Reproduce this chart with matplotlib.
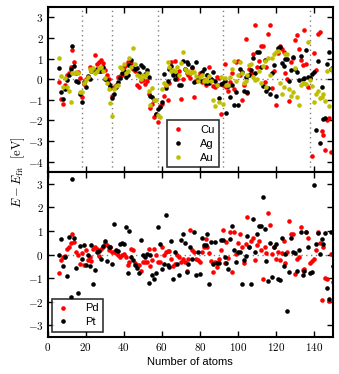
import numpy as np
import matplotlib
matplotlib.use('Agg')
import matplotlib.pyplot as plt
from matplotlib.ticker import FuncFormatter, MultipleLocator

plt.rcParams['mathtext.fontset'] = 'cm'
plt.rcParams['font.family'] = ['Liberation Sans', 'DejaVu Sans']

# 원자 수
n_atoms = np.arange(6, 151)

# 상단 패널: Cu, Ag, Au
cu = [-0.15, -0.95, -1.2, -0.3, 0.2, 0.3, 0.6, 1.4, 0.85, 0.3,
      0.35, 0.05, -0.85, -0.25, 0.0, 0.1, 0.6, 0.45, 0.5, 1.15,
      0.75, 0.85, 0.95, 0.8, 0.45, 0.2, 0.0, -0.45, -0.8, -0.4,
      -0.3, 0.1, 0.15, 0.2, 0.6, 0.7, 0.85, 0.7, 0.8, 0.5,
      0.4, -0.3, -0.4, -0.1, -0.05, -0.25, -0.1, -0.7, -1.4, -1.2,
      -1.85, -1.7, -2.1, -1.3, -1.2, -0.8, -0.3, -1.0, -0.2, 0.85,
      0.3, 0.87, 0.0, 0.4, -0.95, 0.0, 0.5, 0.3, 0.2, 0.05,
      0.55, -0.85, -0.1, 0.05, 0.3, -0.15, -0.05, -0.3, 0.2, 0.58,
      0.0, -0.35, -0.4, 0.1, 0.05, -1.7, -0.3, 0.75, -0.4, -0.55,
      -0.15, 0.3, -0.47, 0.85, 0.87, 0.2, -1.0, -0.3, 1.94, -0.65,
      0.5, 0.3, 1.2, 2.65, 0.6, 0.9, 1.6, 1.6, -0.15, 0.6,
      2.2, 2.65, -0.45, 0.4, -1.25, 1.25, 1.6, 1.45, 1.3, 0.3,
      0.0, -1.05, 0.85, 1.05, 1.9, 2.15, 1.45, 0.95, 0.7, 2.4,
      0.75, -0.4, 0.05, -3.7, 1.25, 0.45, 2.2, 2.3, -2.5, -2.7,
      -3.45, -2.0, -1.9, -3.55, 1.95]
ag = [0.55, -0.63, -0.97, -0.5, -0.05, 0.18, 0.5, 1.6, 0.65, -0.1,
      -0.15, -0.7, -1.1, -0.15, -0.4, 0.15, 0.0, 0.4, 0.45, 0.45,
      0.5, 0.4, 0.4, 0.6, 0.0, -0.05, -0.25, -0.35, -0.9, -0.7,
      -0.4, -0.15, 0.05, 0.3, 0.4, 0.1, 0.2, 0.7, 0.95, 0.55,
      0.5, 0.55, 0.3, 0.7, 0.6, 0.25, 0.45, 0.1, -0.8, -0.85,
      -1.0, -1.7, -1.45, -1.35, -1.1, 0.25, -0.45, -0.1, 0.5, 0.65,
      0.2, 0.0, 0.2, -0.3, -0.3, 0.9, 0.5, 0.85, 0.75, 0.3,
      0.6, -0.15, 0.85, 0.1, -0.05, 0.35, 0.5, -0.2, 0.2, -0.2,
      0.0, 0.35, -0.1, -0.3, -0.9, -0.25, -0.2, -0.1, -1.65, -0.35,
      -0.85, -0.3, -1.25, -0.6, -1.25, 0.5, 0.35, -0.58, 0.1, -0.6,
      0.2, 0.45, 1.05, 0.3, 1.3, 1.3, 0.58, -0.35, 0.95, -0.55,
      -0.45, -0.7, 0.3, 0.7, -0.8, 1.5, 1.55, 0.8, 0.66, 1.0,
      1.0, -0.1, 0.45, 1.07, 0.5, 0.35, -0.05, 1.1, 0.0, 0.05,
      1.4, 0.13, 0.05, 0.26, 0.35, -2.46, 0.87, -3.1, -0.4, -1.95,
      -1.9, 0.75, 1.34, 0.5, 0.6]
au = [1.05, 0.16, -0.4, 0.06, -0.4, -0.55, -1.13, 0.3, 0.3, 0.35,
      0.3, -0.6, -0.6, -0.2, -0.05, 0.1, 0.5, 0.4, 0.55, 0.3,
      0.4, 0.55, 0.6, 0.4, 0.05, -0.2, -0.5, -1.15, -1.8, -0.5,
      -0.35, -0.3, 0.6, 0.5, 0.75, 0.3, 0.4, 1.05, 0.6, 1.5,
      0.75, 0.2, 0.15, 0.0, 0.2, 0.15, 0.3, -0.55, -1.25, -0.45,
      -1.0, -1.0, -1.75, -1.85, -0.5, -0.2, -0.3, 0.85, 0.6, 0.4,
      0.45, 0.4, 0.6, 0.2, 0.8, 1.3, 0.5, 0.35, 0.4, 0.3,
      0.35, 0.35, 0.15, -0.1, 0.1, 0.2, -0.1, 0.0, -0.1, 0.15,
      -0.1, -1.0, -1.3, -0.3, -1.1, 0.1, -1.2, 0.05, -0.3, -0.3,
      0.1, 0.5, 0.87, -0.1, 0.2, 0.85, 0.3, -0.2, -0.1, 0.2,
      0.7, 0.75, 0.1, -0.05, 0.0, 0.42, -0.2, 0.65, 0.9, -0.4,
      1.05, 0.2, 1.05, 1.2, 1.3, 1.35, -0.2, -0.7, -0.4, 1.23,
      1.2, -0.5, -0.8, -0.6, 0.53, -0.85, -1.23, -0.3, -0.2, -0.2,
      -0.25, 1.8, -0.06, -0.35, -1.1, -0.7, -0.55, -0.9, -0.88, -0.7,
      -1.05, 0.42, -1.28, 0.47, 0.35]

# 하단 패널: Pd, Pt
pd_ = [-0.8, -0.25, -0.1, -0.05, 0.25, 0.32, 0.5, 0.86, 0.53, 0.1,
       -0.03, -0.41, 0.05, -0.46, 0.18, -0.25, -0.11, -0.27, 0.23, 0.32,
       0.23, -0.05, 0.25, 0.3, 0.47, 0.4, 0.2, 0.3, 0.1, 0.1,
       0.05, 0.0, -0.1, -0.04, 0.02, -0.1, -0.46, -0.32, 0.25, 0.2,
       -0.35, -0.46, -0.45, -0.68, -0.3, -0.31, -0.3, 0.23, -0.48, -0.25,
       0.25, -0.04, -0.32, -0.3, 0.3, -0.03, 0.1, 0.13, 0.16, -0.2,
       -0.5, -0.4, 0.0, -0.1, -0.3, -0.2, -0.31, -0.7, -0.2, 1.05,
       0.2, 0.09, -0.17, -0.23, -0.3, 0.09, 0.3, 0.65, 0.3, 0.06,
       -0.27, -0.74, -0.3, -0.51, -0.2, 0.2, 1.05, -0.34, 0.51, -0.13,
       0.94, -0.74, 0.97, 0.02, 0.5, 0.87, 0.3, -0.34, 0.44, 1.58,
       0.3, 0.58, 0.7, -0.23, 0.4, 0.58, 0.2, -1.02, 0.3, 0.06,
       1.75, 1.25, 0.02, 0.3, -0.17, 0.1, -0.23, 0.05, 0.58, -0.34,
       0.1, 1.43, 0.87, 0.87, -0.84, -0.17, -0.1, 1.15, -0.67, -0.6,
       0.97, 0.72, -0.35, -0.27, -0.2, 0.2, 0.97, 0.5, -1.93, 0.3,
       -0.98, -1.05, -1.97, 0.01, -1.16]
pt = [0.0, 0.67, -0.49, -0.1, -0.92, 0.76, -1.81, 3.2, 0.7, -0.58,
      -1.64, 0.36, -0.2, 0.39, -0.43, -0.04, -0.49, 0.39, -1.24, -0.65,
      0.1, 0.15, -0.21, 0.36, 0.56, -0.29, 0.3, 0.3, -0.42, 1.28,
      0.2, 0.15, 0.46, 0.5, 0.45, 1.17, -0.79, 1.0, -0.11, -0.23,
      -0.46, -0.58, -0.79, 0.6, -0.04, -0.1, 0.01, -1.19, -0.04, -0.89,
      -1.02, -0.78, 1.17, 0.44, -0.62, -0.4, 1.69, -0.46, -0.55, 0.58,
      -1.05, 0.1, -0.41, -0.88, 0.61, 0.87, 0.5, -0.74, -0.41, 0.3,
      -0.2, 0.94, -0.88, 0.1, -0.84, 0.72, 0.4, 0.4, 0.87, -1.26,
      0.51, -0.41, 0.54, -0.34, -0.34, 0.6, 0.6, -0.1, -0.34, -0.62,
      0.65, 1.19, 0.2, -0.3, 0.09, 0.1, -1.26, -0.23, -0.06, 0.8,
      0.3, -1.26, 1.5, 0.1, 0.87, 1.22, 1.19, 2.43, 1.1, -0.27,
      -1.12, 0.5, -0.94, 0.3, 0.44, -1.02, -1.08, 0.68, -0.48, 0.01,
      -2.4, -0.74, 0.68, 0.11, 0.06, -0.7, 0.2, 0.94, -0.88, -0.7,
      0.94, 0.3, -0.77, -0.74, 2.95, 0.44, 0.9, 0.04, 0.65, 0.44,
      0.9, -1.4, -1.87, 0.94, -0.5]

# 매직 넘버 (점선)
magic = [18, 34, 58, 92, 138]


def math_fmt(x, pos):
    return '$%g$' % x


fig = plt.figure(figsize=(3.39, 3.74), dpi=100)
ax1 = fig.add_axes([0.1407, 0.5401, 0.8416, 0.4412])
ax2 = fig.add_axes([0.1407, 0.0989, 0.8416, 0.4412], sharex=ax1)

ms = 3.3
ax1.plot(n_atoms, cu, 'o', color='#ff0000', ms=ms, mew=0, label='Cu')
ax1.plot(n_atoms, ag, 'o', color='black', ms=ms, mew=0, label='Ag')
ax1.plot(n_atoms, au, 'o', color='#bfbf00', ms=ms, mew=0, label='Au')
for m in magic:
    ax1.axvline(m, color='0.5', ls=(0, (1, 2.5)), lw=1, zorder=0)
ax1.axhline(0, color='0.5', ls=(0, (1, 2.5)), lw=1, zorder=0)

ax2.plot(n_atoms, pd_, 'o', color='#ff0000', ms=ms, mew=0, label='Pd')
ax2.plot(n_atoms, pt, 'o', color='black', ms=ms, mew=0, label='Pt')
ax2.axhline(0, color='0.5', ls=(0, (1, 2.5)), lw=1, zorder=0)

ax1.set_ylim(-4.5, 3.5)
ax2.set_ylim(-3.5, 3.5)
ax2.set_xlim(0, 150)

for ax in (ax1, ax2):
    ax.xaxis.set_major_locator(MultipleLocator(20))
    ax.yaxis.set_major_locator(MultipleLocator(1))
    ax.xaxis.set_major_formatter(FuncFormatter(math_fmt))
    ax.yaxis.set_major_formatter(FuncFormatter(math_fmt))
    ax.tick_params(direction='in', top=True, right=True, length=4, width=1,
                   labelsize=8, pad=3)
    for s in ax.spines.values():
        s.set_linewidth(1.5)
ax1.tick_params(labelbottom=False)

leg1 = ax1.legend(loc='lower left', bbox_to_anchor=(0.418, 0.03), borderaxespad=0,
                  numpoints=1, fontsize=8, fancybox=False, edgecolor='black',
                  handlelength=1.2, handletextpad=1.4, labelspacing=0.35,
                  borderpad=0.4)
leg1.get_frame().set_linewidth(1.2)
leg2 = ax2.legend(loc='lower left', bbox_to_anchor=(0.015, 0.032), borderaxespad=0,
                  numpoints=1, fontsize=8, fancybox=False, edgecolor='black',
                  handlelength=1.2, handletextpad=1.4, labelspacing=0.35,
                  borderpad=0.4)
leg2.get_frame().set_linewidth(1.2)

ax2.set_xlabel('Number of atoms', fontsize=8, labelpad=3)
fig.text(0.055, 0.54, r'$E - E_{\rm fit}\ \ [{\rm eV}]$', rotation=90, va='center',
         ha='center', fontsize=9)

plt.savefig('out.png', dpi=100)
